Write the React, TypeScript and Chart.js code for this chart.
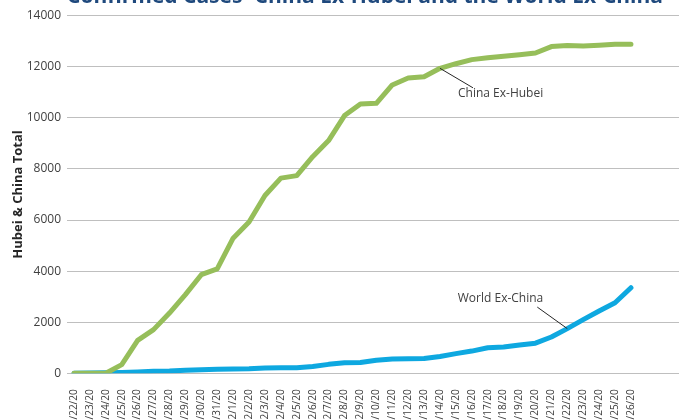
import React, { useEffect, useRef } from "react";
import { Chart, registerables } from "chart.js";

Chart.register(...registerables);

const TITLE = "Confirmed Cases- China Ex-Hubei and the World Ex-China";
const Y_TITLE = "Hubei & China Total";

const dates = [
  "1/22/20", "1/23/20", "1/24/20", "1/25/20", "1/26/20", "1/27/20", "1/28/20", "1/29/20",
  "1/30/20", "1/31/20", "2/1/20", "2/2/20", "2/3/20", "2/4/20", "2/5/20", "2/6/20",
  "2/7/20", "2/8/20", "2/9/20", "2/10/20", "2/11/20", "2/12/20", "2/13/20", "2/14/20",
  "2/15/20", "2/16/20", "2/17/20", "2/18/20", "2/19/20", "2/20/20", "2/21/20", "2/22/20",
  "2/23/20", "2/24/20", "2/25/20", "2/26/20",
];

const chinaExHubei = [
  0, 0, 0, 340, 1290, 1710, 2360, 3080, 3860, 4090, 5290, 5920, 6960, 7640, 7740, 8480,
  9110, 10090, 10545, 10570, 11290, 11560, 11610, 11940, 12120, 12280, 12350, 12410, 12470,
  12540, 12790, 12830, 12810, 12840, 12880, 12880,
];

const worldExChina = [
  0, 10, 20, 30, 50, 80, 90, 120, 140, 160, 170, 180, 210, 220, 220, 270, 350, 410, 420,
  510, 560, 570, 580, 660, 770, 870, 1000, 1030, 1110, 1180, 1420, 1750, 2100, 2440, 2760,
  3350,
];

const yTicks = { min: 0, max: 14000, step: 2000 };

const GREEN = "#96BE5A";
const BLUE = "#0EA8E0";

// annotation labels: anchored on a data point of a series
const annotations = [
  { text: "China Ex-Hubei", dataset: 0, index: 23, lineDx: 33, lineDy: 19.5, textDx: 18, textDy: 25.5 },
  { text: "World Ex-China", dataset: 1, index: 31, lineDx: -30, lineDy: -21.5, textDx: -109.5, textDy: -30.5 },
];

const CANVAS_W = 679;
const CANVAS_H = 470;

const annotationPlugin = {
  id: "leaderLabels",
  afterDatasetsDraw(chart: any) {
    const ctx = chart.ctx;
    const xs = chart.scales.x;
    const ys = chart.scales.y;
    ctx.save();
    annotations.forEach((a) => {
      const series = a.dataset === 0 ? chinaExHubei : worldExChina;
      const px = xs.getPixelForValue(a.index);
      const py = ys.getPixelForValue(series[a.index]);
      ctx.strokeStyle = "#262626";
      ctx.lineWidth = 1;
      ctx.beginPath();
      ctx.moveTo(px, py);
      ctx.lineTo(px + a.lineDx, py + a.lineDy);
      ctx.stroke();
      ctx.fillStyle = "#404040";
      ctx.font = "12px 'Open Sans'";
      ctx.textAlign = "left";
      ctx.textBaseline = "middle";
      ctx.fillText(a.text, px + a.textDx, py + a.textDy);
    });
    ctx.restore();
  },
};

const titlePlugin = {
  id: "cutTitle",
  afterDraw(chart: any) {
    const ctx = chart.ctx;
    ctx.save();
    ctx.fillStyle = "#1F497D";
    ctx.font = "bold 21px 'Open Sans'";
    ctx.textAlign = "center";
    ctx.textBaseline = "alphabetic";
    ctx.fillText(TITLE, 365, 3);
    ctx.restore();
  },
};

export default function App() {
  const ref = useRef<HTMLCanvasElement>(null);

  useEffect(() => {
    if (!ref.current) return;
    Chart.defaults.font.family = "'Open Sans'";
    const chart = new Chart(ref.current, {
      type: "line",
      data: {
        datasets: [
          {
            label: "China Ex-Hubei",
            data: chinaExHubei.map((v, i) => ({ x: i, y: v })),
            borderColor: GREEN,
            backgroundColor: GREEN,
            borderWidth: 5,
            borderCapStyle: "round",
            borderJoinStyle: "round",
            pointRadius: 0,
            tension: 0,
          },
          {
            label: "World Ex-China",
            data: worldExChina.map((v, i) => ({ x: i, y: v })),
            borderColor: BLUE,
            backgroundColor: BLUE,
            borderWidth: 5,
            borderCapStyle: "round",
            borderJoinStyle: "round",
            pointRadius: 0,
            tension: 0,
          },
        ],
      },
      options: {
        responsive: false,
        animation: false,
        layout: { padding: { top: 15.7, left: 0, right: 0, bottom: 0 }, autoPadding: false },
        plugins: {
          legend: { display: false },
          title: { display: false },
          tooltip: { enabled: false },
        },
        scales: {
          x: {
            type: "linear",
            min: -0.44,
            max: 38.02,
            grid: { display: false },
            border: { display: false },
            afterBuildTicks: (scale: any) => {
              scale.ticks = scale.ticks.filter(
                (t: any) => Number.isInteger(t.value) && t.value >= 0 && t.value < dates.length
              );
            },
            afterFit: (scale: any) => {
              scale.height = CANVAS_H - 373.3;
            },
            ticks: {
              stepSize: 1,
              autoSkip: false,
              includeBounds: false,
              maxRotation: 90,
              minRotation: 90,
              padding: 8,
              color: "#404040",
              font: { size: 10 },
              callback: (value: any) =>
                Number.isInteger(value) && dates[value] ? dates[value] : "",
            },
          },
          y: {
            min: yTicks.min,
            max: yTicks.max,
            grid: { color: "#BFBFBF", lineWidth: 1, drawTicks: false },
            border: { display: false },
            afterFit: (scale: any) => {
              scale.width = 67;
            },
            ticks: {
              stepSize: yTicks.step,
              padding: 6,
              color: "#404040",
              font: { size: 12 },
              callback: (value: any) => String(value),
            },
            title: {
              display: true,
              text: Y_TITLE,
              color: "#262626",
              font: { size: 13, weight: "bold" },
              padding: { top: 10, bottom: 0 },
            },
          },
        },
      },
      plugins: [annotationPlugin, titlePlugin],
    });
    return () => chart.destroy();
  }, []);

  return (
    <div
      style={{
        position: "fixed",
        top: 0,
        left: 0,
        width: CANVAS_W,
        height: 420,
        overflow: "hidden",
        background: "#fff",
      }}
    >
      <canvas ref={ref} width={CANVAS_W} height={CANVAS_H} style={{ display: "block" }} />
    </div>
  );
}
